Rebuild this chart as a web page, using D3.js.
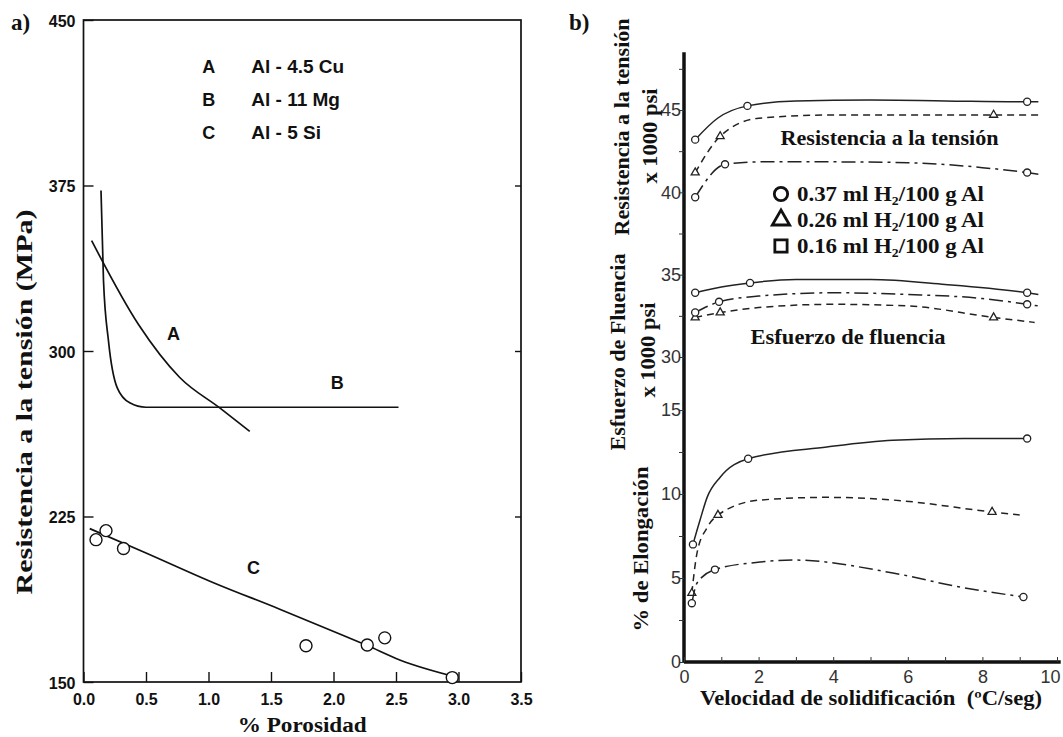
<!DOCTYPE html>
<html>
<head>
<meta charset="utf-8">
<script src="https://cdn.jsdelivr.net/npm/d3@7"></script>
<style>
  body { margin: 0; background: #fff; }
  svg { display: block; }
</style>
</head>
<body>
<svg id="chart" width="1063" height="737"></svg>
<script>
// ---------- panel a) : porosity vs tensile strength
const porosityTicks = [0, 0.5, 1, 1.5, 2, 2.5, 3, 3.5]
const strengthTicks = [150, 225, 300, 375, 450]
const alloyKeys = ["A", "B", "C"]
const alloyNames = ["Al - 4.5 Cu", "Al - 11 Mg", "Al - 5 Si"]

const curveA_x = [0.065, 0.44, 0.77, 1.09, 1.33]
const curveA_y = [350, 312, 288, 274.2, 263.6]
const curveB_x = [0.14, 0.16, 0.2, 0.27, 0.37, 0.5, 1.0, 2.52]
const curveB_y = [372.7, 331.8, 304.5, 283.3, 276.5, 274.5, 274.5, 274.5]
const curveC_x = [0.05, 0.5, 1.04, 1.57, 2.04, 2.27, 2.53, 3.0]
const curveC_y = [219.5, 208.5, 195, 183, 172, 166.5, 160, 152]
const pointsC_x = [0.1, 0.18, 0.32, 1.78, 2.27, 2.41, 2.95]
const pointsC_y = [214.5, 218.6, 210.5, 166.4, 166.8, 170, 152]

// ---------- panel b) : solidification rate
const rateTicks = [0, 1, 2, 3, 4, 5, 6, 7, 8, 9, 10]
const upperTicks = [30, 32.5, 35, 37.5, 40, 42.5, 45, 47.5]
const lowerTicks = [0, 2.5, 5, 7.5, 10, 12.5, 15]
const hydrogenLevels = ["0.37", "0.26", "0.16"]

// tensile strength (x1000 psi)
const ts37_x = [0.3, 0.9, 1.7, 3, 5, 7, 9.2, 9.5]
const ts37_y = [43.2, 44.5, 45.25, 45.55, 45.6, 45.55, 45.5, 45.5]
const ts37_mx = [0.3, 1.7, 9.2], ts37_my = [43.2, 45.25, 45.5]
const ts26_x = [0.3, 0.97, 2.0, 4, 6, 8.3, 9.5]
const ts26_y = [41.2, 43.4, 44.5, 44.7, 44.7, 44.7, 44.7]
const ts26_mx = [0.3, 0.97, 8.3], ts26_my = [41.2, 43.4, 44.7]
const ts16_x = [0.3, 1.1, 2, 4, 6, 8, 9.2, 9.5]
const ts16_y = [39.7, 41.7, 41.85, 41.85, 41.8, 41.5, 41.2, 41.1]
const ts16_mx = [0.3, 1.1, 9.2], ts16_my = [39.7, 41.7, 41.2]

// yield strength (x1000 psi)
const ys37_x = [0.3, 1.0, 1.77, 3, 5, 7, 9.2, 9.5]
const ys37_y = [33.9, 34.25, 34.5, 34.7, 34.7, 34.4, 33.9, 33.8]
const ys37_mx = [0.3, 1.77, 9.2], ys37_my = [33.9, 34.5, 33.9]
const ys26_x = [0.3, 0.97, 2, 4, 6, 8.3, 9.4]
const ys26_y = [32.4, 32.7, 33.0, 33.2, 33.1, 32.4, 32.1]
const ys26_mx = [0.3, 0.97, 8.3], ys26_my = [32.4, 32.7, 32.4]
const ys16_x = [0.3, 0.94, 2, 4, 6, 8, 9.2, 9.5]
const ys16_y = [32.7, 33.35, 33.7, 33.9, 33.8, 33.55, 33.2, 33.1]
const ys16_mx = [0.3, 0.94, 9.2], ys16_my = [32.7, 33.35, 33.2]

// elongation (%)
const el37_x = [0.24, 0.43, 0.62, 0.97, 1.72, 3.83, 5.6, 7.5, 9.2]
const el37_y = [7.0, 8.45, 9.8, 11.0, 12.1, 12.8, 13.2, 13.3, 13.3]
const el37_mx = [0.24, 1.72, 9.2], el37_my = [7.0, 12.1, 13.3]
const el26_x = [0.21, 0.35, 0.62, 0.91, 2.04, 3.83, 5.6, 8.26, 9.0]
const el26_y = [4.1, 6.5, 8.0, 8.75, 9.64, 9.8, 9.64, 8.93, 8.75]
const el26_mx = [0.21, 0.91, 8.26], el26_my = [4.1, 8.75, 8.93]
const el16_x = [0.21, 0.35, 0.83, 2.04, 2.92, 5.6, 7.4, 9.1]
const el16_y = [3.5, 4.7, 5.5, 5.95, 6.07, 5.3, 4.46, 3.87]
const el16_mx = [0.21, 0.83, 9.1], el16_my = [3.5, 5.5, 3.87]

const SERIF = "'Liberation Serif', 'Times New Roman', serif"
const SANS = "'Liberation Sans', Arial, sans-serif"
const INK = "#111"

const pts = (xs, ys) => xs.map((x, i) => [x, ys[i]])
const svg = d3.select("#chart")

// ================= panel a =================
const xA = d3.scaleLinear().domain([0, 3.5]).range([83.5, 521])
const yA = d3.scaleLinear().domain([150, 450]).range([682, 20])
const a = svg.append("g")

a.append("rect")
    .attr("x", xA(0)).attr("y", yA(450))
    .attr("width", xA(3.5) - xA(0)).attr("height", yA(150) - yA(450))
    .attr("fill", "none").attr("stroke", INK).attr("stroke-width", 1.7)

a.append("g")
    .attr("transform", `translate(${xA(0)},0)`)
    .call(d3.axisLeft(yA).tickValues(strengthTicks).tickSizeInner(-10).tickSizeOuter(0).tickPadding(8))
    .call(g => g.select(".domain").remove())
    .call(g => g.selectAll("line").attr("stroke", INK).attr("stroke-width", 1.4))
    .call(g => g.selectAll("text").attr("font-family", SANS).attr("font-weight", "bold")
        .attr("font-size", 16).attr("fill", INK).attr("dy", "0.4em"))

a.append("g")
    .attr("transform", `translate(${xA(3.5)},0)`)
    .call(d3.axisRight(yA).tickValues([225, 300, 375]).tickSizeInner(-6).tickSizeOuter(0).tickFormat(""))
    .call(g => g.select(".domain").remove())
    .call(g => g.selectAll("line").attr("stroke", INK).attr("stroke-width", 1.4))

a.append("g")
    .attr("transform", `translate(0,${yA(150)})`)
    .call(d3.axisBottom(xA).tickValues(porosityTicks).tickSizeInner(-10).tickSizeOuter(0)
        .tickPadding(12).tickFormat(d3.format(".1f")))
    .call(g => g.select(".domain").remove())
    .call(g => g.selectAll("line").attr("stroke", INK).attr("stroke-width", 1.4))
    .call(g => g.selectAll("text").attr("font-family", SANS).attr("font-weight", "bold")
        .attr("font-size", 16).attr("fill", INK))

const lineA = d3.line().x(d => xA(d[0])).y(d => yA(d[1])).curve(d3.curveMonotoneX)
const curvesA = [pts(curveA_x, curveA_y), pts(curveB_x, curveB_y), pts(curveC_x, curveC_y)]
a.selectAll("path.curve")
    .data(curvesA)
    .enter()
    .append("path")
      .attr("class", "curve")
      .attr("d", lineA)
      .attr("fill", "none")
      .attr("stroke", INK)
      .attr("stroke-width", 1.7)

a.selectAll("circle.pt")
    .data(pts(pointsC_x, pointsC_y))
    .enter()
    .append("circle")
      .attr("class", "pt")
      .attr("cx", d => xA(d[0]))
      .attr("cy", d => yA(d[1]))
      .attr("r", 6)
      .attr("fill", "#fff")
      .attr("stroke", INK)
      .attr("stroke-width", 1.4)

// curve letters
const letterPos = [[0.72, 308], [2.03, 285.5], [1.36, 202]]
a.selectAll("text.letter")
    .data(alloyKeys)
    .enter()
    .append("text")
      .attr("class", "letter")
      .attr("x", (d, i) => xA(letterPos[i][0]))
      .attr("y", (d, i) => yA(letterPos[i][1]))
      .attr("dy", "0.36em")
      .attr("text-anchor", "middle")
      .attr("font-family", SANS).attr("font-weight", "bold").attr("font-size", 18).attr("fill", INK)
      .text(d => d)

// legend
const leg = a.selectAll("g.leg")
    .data(alloyKeys)
    .enter()
    .append("g")
      .attr("class", "leg")
      .attr("transform", (d, i) => `translate(${xA(0.95)},${yA(429 - i * 15)})`)
leg.append("text")
    .attr("dy", "0.36em")
    .attr("font-family", SANS).attr("font-weight", "bold").attr("font-size", 18).attr("fill", INK)
    .text(d => d)
leg.append("text")
    .attr("x", 49)
    .attr("dy", "0.36em")
    .attr("font-family", SANS).attr("font-weight", "bold").attr("font-size", 19).attr("fill", INK)
    .text((d, i) => alloyNames[i])

a.append("text")
    .attr("transform", `translate(24,402) rotate(-90)`)
    .attr("dy", "0.35em")
    .attr("text-anchor", "middle")
    .attr("font-family", SERIF).attr("font-weight", "bold").attr("font-size", 23).attr("fill", INK)
    .attr("textLength", 385).attr("lengthAdjust", "spacingAndGlyphs")
    .text("Resistencia a la tensión (MPa)")

a.append("text")
    .attr("x", xA(1.75)).attr("y", 725)
    .attr("dy", "0.35em")
    .attr("text-anchor", "middle")
    .attr("font-family", SERIF).attr("font-weight", "bold").attr("font-size", 20).attr("fill", INK)
    .attr("textLength", 129).attr("lengthAdjust", "spacingAndGlyphs")
    .text("% Porosidad")

svg.append("text")
    .attr("x", 11).attr("y", 30)
    .attr("font-family", SERIF).attr("font-weight", "bold").attr("font-size", 23).attr("fill", INK)
    .text("a)")

// ================= panel b =================
const xB = d3.scaleLinear().domain([0, 10]).range([684, 1057])
const yUp = d3.scaleLinear().domain([30, 45]).range([357, 110])
const yLow = d3.scaleLinear().domain([0, 15]).range([662, 410])
const b = svg.append("g")

const styles = {
    solid: null,
    dashed: "7,5",
    dashdot: "14,5,3,5"
}

const seriesB = [
    { y: yUp, dash: "solid", sym: d3.symbolCircle, c: pts(ts37_x, ts37_y), m: pts(ts37_mx, ts37_my) },
    { y: yUp, dash: "dashed", sym: d3.symbolTriangle, c: pts(ts26_x, ts26_y), m: pts(ts26_mx, ts26_my) },
    { y: yUp, dash: "dashdot", sym: d3.symbolCircle, c: pts(ts16_x, ts16_y), m: pts(ts16_mx, ts16_my) },
    { y: yUp, dash: "solid", sym: d3.symbolCircle, c: pts(ys37_x, ys37_y), m: pts(ys37_mx, ys37_my) },
    { y: yUp, dash: "dashed", sym: d3.symbolTriangle, c: pts(ys26_x, ys26_y), m: pts(ys26_mx, ys26_my) },
    { y: yUp, dash: "dashdot", sym: d3.symbolCircle, c: pts(ys16_x, ys16_y), m: pts(ys16_mx, ys16_my) },
    { y: yLow, dash: "solid", sym: d3.symbolCircle, c: pts(el37_x, el37_y), m: pts(el37_mx, el37_my) },
    { y: yLow, dash: "dashed", sym: d3.symbolTriangle, c: pts(el26_x, el26_y), m: pts(el26_mx, el26_my) },
    { y: yLow, dash: "dashdot", sym: d3.symbolCircle, c: pts(el16_x, el16_y), m: pts(el16_mx, el16_my) }
]

// axes lines (thick, hand drawn look)
b.append("line")
    .attr("x1", xB(0)).attr("x2", xB(0))
    .attr("y1", yUp(48.5)).attr("y2", yLow(0))
    .attr("stroke", INK).attr("stroke-width", 3.5)
b.append("line")
    .attr("x1", xB(0)).attr("x2", xB(10.1))
    .attr("y1", yLow(0)).attr("y2", yLow(0))
    .attr("stroke", INK).attr("stroke-width", 3.5)

const tickText = g => g.selectAll("text")
    .attr("font-family", SANS).attr("font-size", 18).attr("fill", "#333")

b.append("g")
    .attr("transform", `translate(${xB(0)},0)`)
    .call(d3.axisLeft(yUp).tickValues(upperTicks).tickSize(5).tickPadding(-2)
        .tickFormat(d => d % 5 === 0 ? d : ""))
    .call(g => g.select(".domain").remove())
    .call(g => g.selectAll("line").attr("stroke", "#333"))
    .call(tickText)

b.append("g")
    .attr("transform", `translate(${xB(0)},0)`)
    .call(d3.axisLeft(yLow).tickValues(lowerTicks).tickSize(5).tickPadding(-2)
        .tickFormat(d => d % 5 === 0 ? d : ""))
    .call(g => g.select(".domain").remove())
    .call(g => g.selectAll("line").attr("stroke", "#333"))
    .call(tickText)

b.append("g")
    .attr("transform", `translate(0,${yLow(0)})`)
    .call(d3.axisBottom(xB).tickValues(rateTicks).tickSizeInner(-5).tickSizeOuter(0).tickPadding(8)
        .tickFormat(d => d % 2 === 0 ? d : ""))
    .call(g => g.select(".domain").remove())
    .call(g => g.selectAll("line").attr("stroke", "#333"))
    .call(tickText)
    .call(g => g.selectAll("text").filter(d => d === 10).attr("text-anchor", "end").attr("dx", 3))

// series
seriesB.forEach(s => {
    const line = d3.line().x(d => xB(d[0])).y(d => s.y(d[1])).curve(d3.curveMonotoneX)
    b.append("path")
        .attr("d", line(s.c))
        .attr("fill", "none")
        .attr("stroke", "#222")
        .attr("stroke-width", 1.5)
        .attr("stroke-dasharray", styles[s.dash])
    b.selectAll(null)
        .data(s.m)
        .enter()
        .append("path")
          .attr("transform", d => `translate(${xB(d[0])},${s.y(d[1])})`)
          .attr("d", d3.symbol(s.sym, s.sym === d3.symbolTriangle ? 28 : 40))
          .attr("fill", "#fff")
          .attr("stroke", "#222")
          .attr("stroke-width", 1.3)
})

// legend b
const legSyms = [d3.symbolCircle, d3.symbolTriangle, d3.symbolSquare]
const legSizes = [140, 130, 150]
const legB = b.selectAll("g.legb")
    .data(hydrogenLevels)
    .enter()
    .append("g")
      .attr("class", "legb")
      .attr("transform", (d, i) => `translate(${xB(2.6)},${yUp(39.9 - i * 1.58)})`)
legB.append("path")
    .attr("d", (d, i) => d3.symbol(legSyms[i], legSizes[i])())
    .attr("fill", "#fff")
    .attr("stroke", INK)
    .attr("stroke-width", 2.8)
const legText = legB.append("text")
    .attr("x", 16)
    .attr("dy", "0.35em")
    .attr("font-family", SERIF).attr("font-weight", "bold").attr("font-size", 20).attr("fill", INK)
    .attr("textLength", 187).attr("lengthAdjust", "spacingAndGlyphs")
legText.append("tspan").text(d => `${d} ml H`)
legText.append("tspan").attr("font-size", 12).attr("dy", 4).text("2")
legText.append("tspan").attr("dy", -4).text("/100 g Al")

b.append("text")
    .attr("x", xB(5.51)).attr("y", yUp(43.3))
    .attr("dy", "0.35em")
    .attr("text-anchor", "middle")
    .attr("font-family", SERIF).attr("font-weight", "bold").attr("font-size", 20).attr("fill", INK)
    .attr("textLength", 218).attr("lengthAdjust", "spacingAndGlyphs")
    .text("Resistencia a la tensión")

b.append("text")
    .attr("x", xB(4.4)).attr("y", yUp(31.2))
    .attr("dy", "0.35em")
    .attr("text-anchor", "middle")
    .attr("font-family", SERIF).attr("font-weight", "bold").attr("font-size", 20).attr("fill", INK)
    .attr("textLength", 195).attr("lengthAdjust", "spacingAndGlyphs")
    .text("Esfuerzo de fluencia")

const yLabels = [
    ["Resistencia a la tensión", 622, 127, 217],
    ["x 1000 psi", 650, 136, 95],
    ["Esfuerzo de Fluencia", 618, 352, 197],
    ["x 1000 psi", 648, 350, 95],
    ["% de Elongación", 641, 549, 165]
]
b.selectAll("text.ylab")
    .data(yLabels)
    .enter()
    .append("text")
      .attr("class", "ylab")
      .attr("transform", d => `translate(${d[1]},${d[2]}) rotate(-90)`)
      .attr("dy", "0.35em")
      .attr("text-anchor", "middle")
      .attr("font-family", SERIF).attr("font-weight", "bold").attr("font-size", 21).attr("fill", INK)
      .attr("textLength", d => d[3]).attr("lengthAdjust", "spacingAndGlyphs")
      .text(d => d[0])

b.append("text")
    .attr("x", 871).attr("y", 698)
    .attr("dy", "0.35em")
    .attr("text-anchor", "middle")
    .attr("font-family", SERIF).attr("font-weight", "bold").attr("font-size", 20).attr("fill", INK)
    .attr("textLength", 342).attr("lengthAdjust", "spacingAndGlyphs")
    .attr("xml:space", "preserve")
    .text("Velocidad de solidificación  (ºC/seg)")

svg.append("text")
    .attr("x", 569).attr("y", 30)
    .attr("font-family", SERIF).attr("font-weight", "bold").attr("font-size", 23).attr("fill", INK)
    .text("b)")
</script>
</body>
</html>
